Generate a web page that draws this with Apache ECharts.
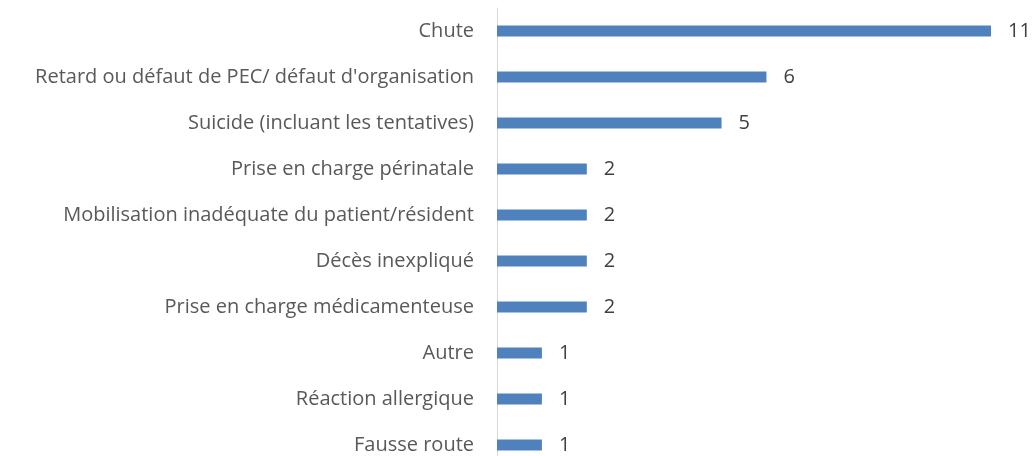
<!DOCTYPE html>
<html>
<head>
<meta charset="utf-8">
<script src="https://cdn.jsdelivr.net/npm/echarts@6/dist/echarts.min.js"></script>
<style>
  html, body { margin: 0; padding: 0; background: #ffffff; overflow: hidden; }
  /* the plot runs slightly past the bottom of the window */
  #chart { width: 1034px; height: 468px; }
</style>
</head>
<body>
<div id="chart"></div>
<script>
// Event categories, top to bottom
const categories = [
  "Chute",
  "Retard ou défaut de PEC/ défaut d'organisation",
  "Suicide (incluant les tentatives)",
  "Prise en charge périnatale",
  "Mobilisation inadéquate du patient/résident",
  "Décès inexpliqué",
  "Prise en charge médicamenteuse",
  "Autre",
  "Réaction allergique",
  "Fausse route"
];
// Number of events per category
const counts = [11, 6, 5, 2, 2, 2, 2, 1, 1, 1];

const textFont = "'Open Sans', sans-serif";
const chart = echarts.init(document.getElementById('chart'), null, { renderer: 'canvas' });
chart.setOption({
  animation: false,
  grid: { left: 497, top: 8, width: 494, bottom: 0, containLabel: false },
  xAxis: {
    type: 'value',
    min: 0,
    max: 11,
    show: false
  },
  yAxis: {
    type: 'category',
    data: categories,
    inverse: true,
    axisLine: { show: true, lineStyle: { color: '#d9d9d9', width: 1 } },
    axisTick: { show: false },
    axisLabel: {
      color: '#595959',
      fontFamily: textFont,
      fontSize: 20,
      margin: 23
    }
  },
  series: [{
    type: 'bar',
    data: counts,
    barWidth: 11,
    itemStyle: { color: '#4f81bd' },
    label: {
      show: true,
      position: 'right',
      distance: 17,
      color: '#404040',
      fontFamily: textFont,
      fontSize: 20
    }
  }]
});
</script>
</body>
</html>
